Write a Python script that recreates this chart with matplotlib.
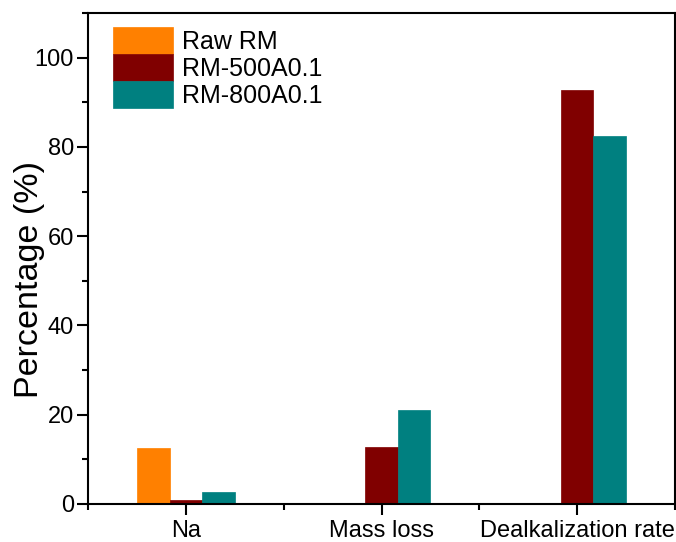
import numpy as np
import matplotlib
matplotlib.use("Agg")
import matplotlib.pyplot as plt
from matplotlib.ticker import MultipleLocator, FixedLocator

categories = ["Na", "Mass loss", "Dealkalization rate"]
series_names = ["Raw RM", "RM-500A0.1", "RM-800A0.1"]
raw_rm = [12.5, np.nan, np.nan]
rm500 = [1.0, 12.7, 92.7]
rm800 = [2.7, 21.0, 82.4]
colors = ["#FF8000", "#800000", "#008080"]

plt.rcParams['font.family'] = ['Liberation Sans', 'DejaVu Sans']

fig = plt.figure(figsize=(6.76, 5.42), dpi=100)
ax = fig.add_axes([88/676, 1-504/542, (675-88)/676, (504-13)/542])

x = np.arange(len(categories))
w = 1/6
for i, (vals, name, c) in enumerate(zip([raw_rm, rm500, rm800], series_names, colors)):
    ax.bar(x + (i-1)*w, vals, width=w, color=c, label=name, edgecolor=c, linewidth=0.5)

ax.set_xlim(-0.5, 2.5)
ax.set_ylim(0, 110)
ax.set_xticks(x)
ax.set_xticklabels(categories, fontsize=17)
ax.xaxis.set_minor_locator(FixedLocator([-0.5, 0.5, 1.5, 2.5]))
ax.yaxis.set_major_locator(MultipleLocator(20))
ax.yaxis.set_minor_locator(MultipleLocator(10))
ax.tick_params(axis='y', labelsize=17)
ax.tick_params(which='major', direction='out', length=8, width=1.5, pad=2)
ax.tick_params(which='minor', direction='out', length=4.5, width=1.5)
ax.tick_params(axis='x', which='major', pad=3.5)
for s in ax.spines.values():
    s.set_linewidth(1.5)

ax.set_ylabel("Percentage (%)", fontsize=24.5)
ax.yaxis.set_label_coords(-0.073, 0.458)

leg = ax.legend(loc='upper left', bbox_to_anchor=(0.0426, 0.972), frameon=False,
                fontsize=18, handlelength=2.4, handleheight=1.3, labelspacing=0.0,
                handletextpad=0.36, borderpad=0, borderaxespad=0)

fig.savefig("out.png", dpi=100)
